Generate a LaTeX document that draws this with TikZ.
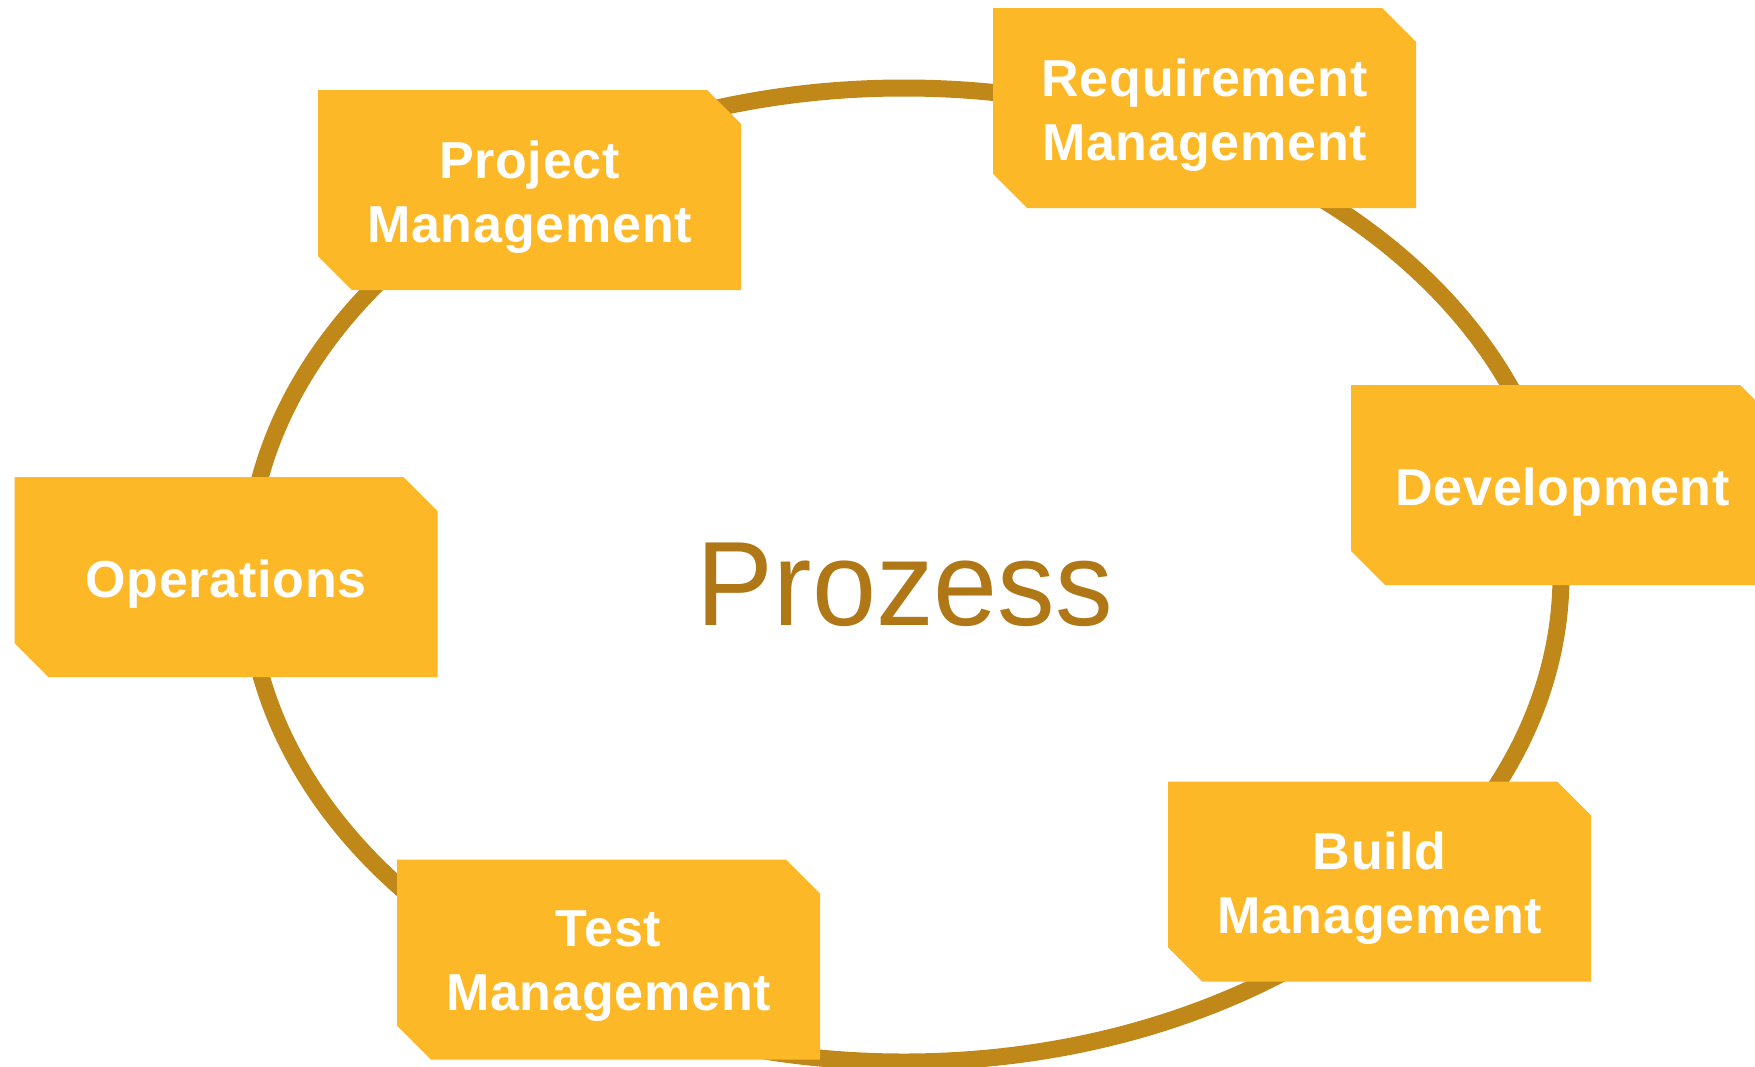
\documentclass[tikz,border=0pt]{standalone}
\usepackage{fontspec}
\setmainfont{Liberation Sans}
\newfontfamily\boxfont{Liberation Sans}[LetterSpace=1.5]
\definecolor{boxfill}{HTML}{FDB827}
\definecolor{ringcol}{HTML}{C08818}
\definecolor{titlecol}{HTML}{B07716}
\newcommand\stagebox[4]{%
  \fill[boxfill] (#2-211.5,#3-100) -- (#2+177.5,#3-100) -- (#2+211.5,#3-66)
    -- (#2+211.5,#3+100) -- (#2-177.5,#3+100) -- (#2-211.5,#3+66) -- cycle;
  \node[stagetext] (#1) at (#2,#3+7) {#4};}
\begin{document}
\begin{tikzpicture}[x=1pt,y=-1pt,
  stagetext/.style={inner sep=0pt, text=white, align=center,
    font=\boxfont\bfseries\fontsize{52}{64}\selectfont},
  ring/.style={draw=ringcol, line width=17pt}]
\useasboundingbox (0,0) rectangle (1755,1066);
\clip (0,0) rectangle (1755,1066);
\fill[white] (0,0) rectangle (1755,1066);
\draw[ring] (904,575) ellipse [x radius=657pt, y radius=487pt];
\node[font=\fontsize{120}{130}\selectfont, text=titlecol, xscale=0.96] (prozess) at (905,585) {Prozess};
\stagebox{pm}{529.5}{190}{Project\\Management}
\stagebox{rm}{1204.5}{108}{Requirement\\Management}
\stagebox{dev}{1562.5}{485}{Development}
\stagebox{ops}{226}{577}{Operations}
\stagebox{test}{608.5}{959.5}{Test\\Management}
\stagebox{build}{1379.5}{881.5}{Build\\Management}
\end{tikzpicture}
\end{document}
